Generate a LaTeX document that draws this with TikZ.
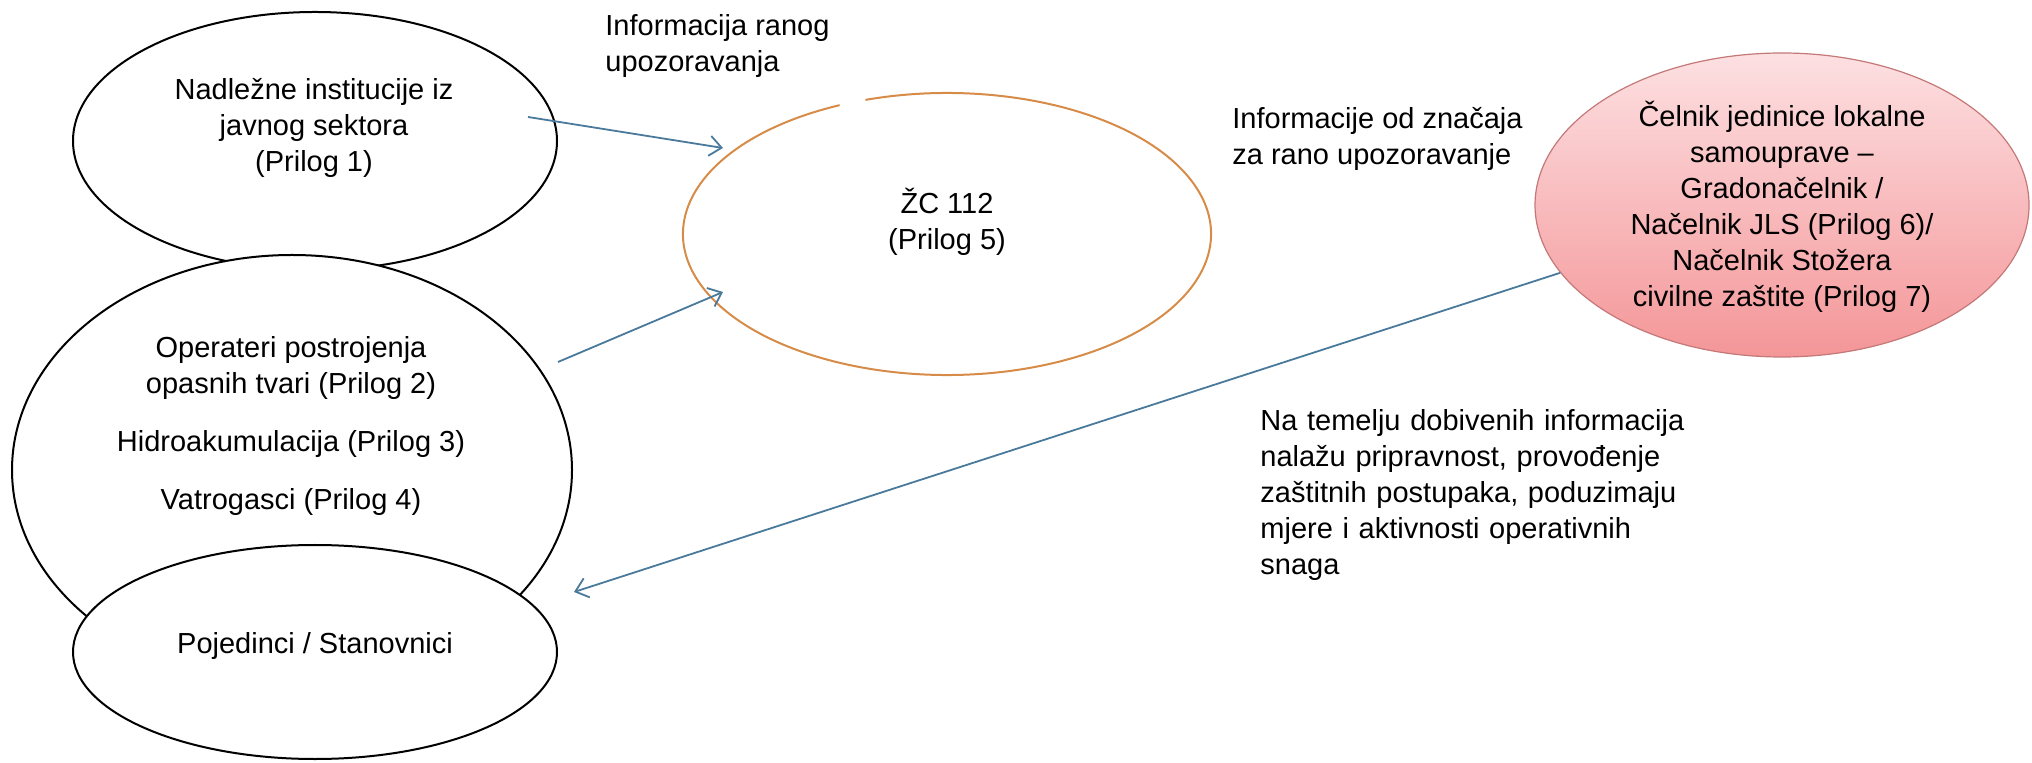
\documentclass[tikz,border=0pt]{standalone}
\usepackage{fontspec}
\setmainfont{Liberation Sans}
\usetikzlibrary{shapes.geometric,arrows.meta}
\definecolor{arrblue}{RGB}{74,122,155}
\definecolor{zcorange}{RGB}{214,140,72}
\definecolor{redtop}{RGB}{253,224,226}
\definecolor{redbot}{RGB}{244,150,152}
\definecolor{redline}{RGB}{196,120,120}
\begin{document}
\begin{tikzpicture}[x=0.5pt,y=-0.5pt,
  every node/.style={font=\fontsize{14.5pt}{18pt}\selectfont},
  blob/.style={ellipse, draw=black, line width=1pt, fill=white, inner sep=0pt, outer sep=0pt},
  lbl/.style={align=center, inner sep=0pt},
  arr/.style={draw=arrblue, line width=0.9pt, -{Straight Barb[length=6pt,width=10pt]}}]
\useasboundingbox (0,0) rectangle (2032,763);
% left ellipses
\node[blob, minimum width=242pt, minimum height=129pt] (e1) at (315,141) {};
\node[blob, minimum width=280pt, minimum height=215pt] (e2) at (292,470) {};
\node[blob, minimum width=242pt, minimum height=107pt] (e3) at (315,652) {};
\node[lbl] (t1) at (314,128) {Nadležne institucije iz\\javnog sektora\\(Prilog 1)};
\node[lbl] (t2) at (291,368) {Operateri postrojenja\\opasnih tvari (Prilog 2)};
\node[lbl] (t3) at (291,444) {Hidroakumulacija (Prilog 3)};
\node[lbl] (t4) at (291,502) {Vatrogasci (Prilog 4)};
\node[lbl] (t5) at (315,646) {Pojedinci / Stanovnici};
% ZC 112
\node[ellipse, inner sep=0pt, minimum width=264pt, minimum height=141pt] (zc) at (947,234) {};
\draw[zcorange, line width=1pt] ([shift={(114:132pt and 70.5pt)}]zc.center)
  arc[start angle=114, end angle=468, x radius=132pt, y radius=70.5pt];
\node[lbl] (t6) at (947,222) {ŽC 112\\(Prilog 5)};
% red ellipse
\node[ellipse, draw=redline, line width=0.6pt, top color=redtop, bottom color=redbot,
  inner sep=0pt, minimum width=247pt, minimum height=152pt] (red) at (1782,205) {};
\node[lbl] (t8) at (1782,207) {Čelnik jedinice lokalne\\samouprave –\\Gradonačelnik /\\Načelnik JLS (Prilog 6)/\\Načelnik Stožera\\civilne zaštite (Prilog 7)};
% free labels
\node[lbl, align=left, anchor=west] (t7) at (605,46) {Informacija ranog\\upozoravanja};
\node[lbl, align=left, anchor=west] (t9) at (1232,139) {Informacije od značaja\\za rano upozoravanje};
\node[anchor=north west, inner sep=0pt, align=left, text width=220pt] (para) at (1260,409)
  {\makebox[220pt][s]{Na temelju dobivenih informacija}\\
   \makebox[220pt][s]{nalažu pripravnost, provođenje}\\
   \makebox[220pt][s]{zaštitnih postupaka, poduzimaju}\\
   \makebox[220pt][s]{mjere i aktivnosti operativnih}\\
   snaga};
% arrows
\coordinate (a1s) at (528,117);
\coordinate (a1e) at (723,148);
\coordinate (a2s) at (558,362);
\coordinate (a2e) at (723,292);
\coordinate (a3e) at (574,592);
\draw[arr] (a1s) -- (a1e);
\draw[arr] (a2s) -- (a2e);
\draw[arr] (red.197) -- (a3e);
\end{tikzpicture}
\end{document}
